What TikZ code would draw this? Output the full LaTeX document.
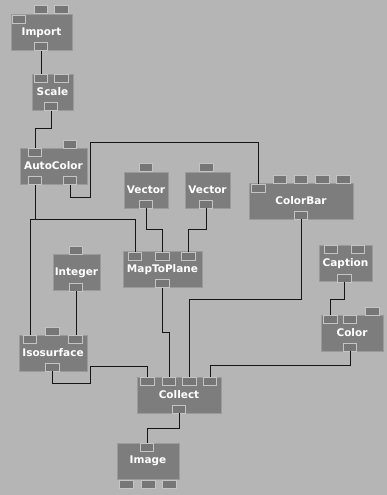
\documentclass[tikz,border=0pt]{standalone}
\usepackage{fontspec}
\setmainfont{DejaVu Sans}
\definecolor{bgc}{HTML}{B5B5B5}
\definecolor{modc}{HTML}{7D7D7D}
\definecolor{modedge}{HTML}{9A9A9A}
\definecolor{tabc}{HTML}{767676}
\definecolor{tabedge}{HTML}{C4C4C4}
\definecolor{wirec}{HTML}{161616}
\begin{document}
\begin{tikzpicture}[x=1pt,y=-1pt,
  mod/.style={draw=modedge, fill=modc, line width=0.6pt, minimum height=36pt, inner sep=0pt,
    text=white, font=\bfseries\fontsize{10.5}{12}\selectfont},
  tab/.style={draw=tabedge, fill=tabc, line width=0.6pt, minimum width=13.5pt, minimum height=8pt, inner sep=0pt},
  wire/.style={draw=wirec, line width=1pt}]
\useasboundingbox (0,0) rectangle (387,495);
\fill[bgc] (0,0) rectangle (387,495);
% modules
\node[mod, minimum width=61pt] (import) at (41.5,32.5) {Import};
\node[mod, minimum width=41pt] (scale) at (52.5,92) {Scale};
\node[mod, minimum width=67pt] (autocolor) at (53.5,166) {AutoColor};
\node[mod, minimum width=44pt] (vector1) at (146,190) {Vector};
\node[mod, minimum width=45pt] (vector2) at (207.5,190) {Vector};
\node[mod, minimum width=104pt] (colorbar) at (301,201) {ColorBar};
\node[mod, minimum width=79pt] (maptoplane) at (162.5,269.5) {MapToPlane};
\node[mod, minimum width=47pt] (integer) at (76.5,272.5) {Integer};
\node[mod, minimum width=53pt] (caption) at (345.5,263.5) {Caption};
\node[mod, minimum width=62pt] (color) at (352,333) {Color};
\node[mod, minimum width=68pt] (isosurface) at (53,353) {Isosurface};
\node[mod, minimum width=84pt] (collect) at (179,395) {Collect};
\node[mod, minimum width=62pt] (image) at (148,461) {Image};
% tabs
\node[tab] (itop1) at (41,9) {};
\node[tab] (itop2) at (61.5,9) {};
\node[tab] (iin) at (19,19) {};
\node[tab] (iout) at (41,46.5) {};
\node[tab] (sin1) at (41,78) {};
\node[tab] (sin2) at (61.5,78) {};
\node[tab] (sout) at (51,106.5) {};
\node[tab] (actop) at (70,144) {};
\node[tab] (acin) at (35,152.5) {};
\node[tab] (acout1) at (35,180.5) {};
\node[tab] (acout2) at (70,180.5) {};
\node[tab] (v1top) at (146,167.5) {};
\node[tab] (v1out) at (146,204) {};
\node[tab] (v2top) at (206.5,167.5) {};
\node[tab] (v2out) at (206,204) {};
\node[tab] (cbtop1) at (280,179) {};
\node[tab] (cbtop2) at (301,179) {};
\node[tab] (cbtop3) at (322.5,179) {};
\node[tab] (cbtop4) at (343.5,179) {};
\node[tab] (cbin) at (258.5,188) {};
\node[tab] (cbout) at (301,215) {};
\node[tab] (mtpin1) at (135,256) {};
\node[tab] (mtpin2) at (162.5,256) {};
\node[tab] (mtpin3) at (188.5,256) {};
\node[tab] (mtpout) at (162.5,283.5) {};
\node[tab] (inttop) at (76,250.5) {};
\node[tab] (intout) at (76,287) {};
\node[tab] (capin1) at (331,249) {};
\node[tab] (capin2) at (358,249) {};
\node[tab] (capout) at (344.5,278) {};
\node[tab] (coltop) at (372.5,311) {};
\node[tab] (colin1) at (330.5,319) {};
\node[tab] (colin2) at (350,319) {};
\node[tab] (colout) at (350,347) {};
\node[tab] (isotop) at (52.5,331) {};
\node[tab] (isoin1) at (30,339) {};
\node[tab] (isoin2) at (75.5,339) {};
\node[tab] (isoout) at (52.5,367) {};
\node[tab] (clin1) at (147.5,381) {};
\node[tab] (clin2) at (169,381) {};
\node[tab] (clin3) at (189.5,381) {};
\node[tab] (clin4) at (210,381) {};
\node[tab] (clout) at (179,409) {};
\node[tab] (imin) at (147,447) {};
\node[tab] (imb1) at (126.5,484) {};
\node[tab] (imb2) at (148.5,484) {};
\node[tab] (imb3) at (169.5,484) {};
% wires
\draw[wire] (iout.south) -- (sin1.north);
\draw[wire] (sout.south) -- ++(0,17.5) -| (acin.north);
\draw[wire] (acout2.south) -- ++(0,12.5) -- ++(20,0) -- ++(0,-55) -| (cbin.north);
\draw[wire] (acout1.south) -- ++(0,35.5);
\draw[wire] (isoin1.north) -- ++(0,-115) -| (mtpin1.north);
\draw[wire] (v1out.south) -- ++(0,21) -| (mtpin2.north);
\draw[wire] (v2out.south) -- ++(0,21) -| (mtpin3.north);
\draw[wire] (mtpout.south) -- ++(0,44.5) -| (clin2.north);
\draw[wire] (cbout.south) -- ++(0,80) -| (clin3.north);
\draw[wire] (capout.south) -- ++(0,17) -| (colin1.north);
\draw[wire] (colout.south) -- ++(0,14) -| (clin4.north);
\draw[wire] (intout.south) -- (intout.south |- isoin2.north);
\draw[wire] (isoout.south) -- ++(0,12) -- ++(37.5,0) -- ++(0,-17) -| (clin1.north);
\draw[wire] (clout.south) -- ++(0,15.5) -| (imin.north);
\end{tikzpicture}
\end{document}
